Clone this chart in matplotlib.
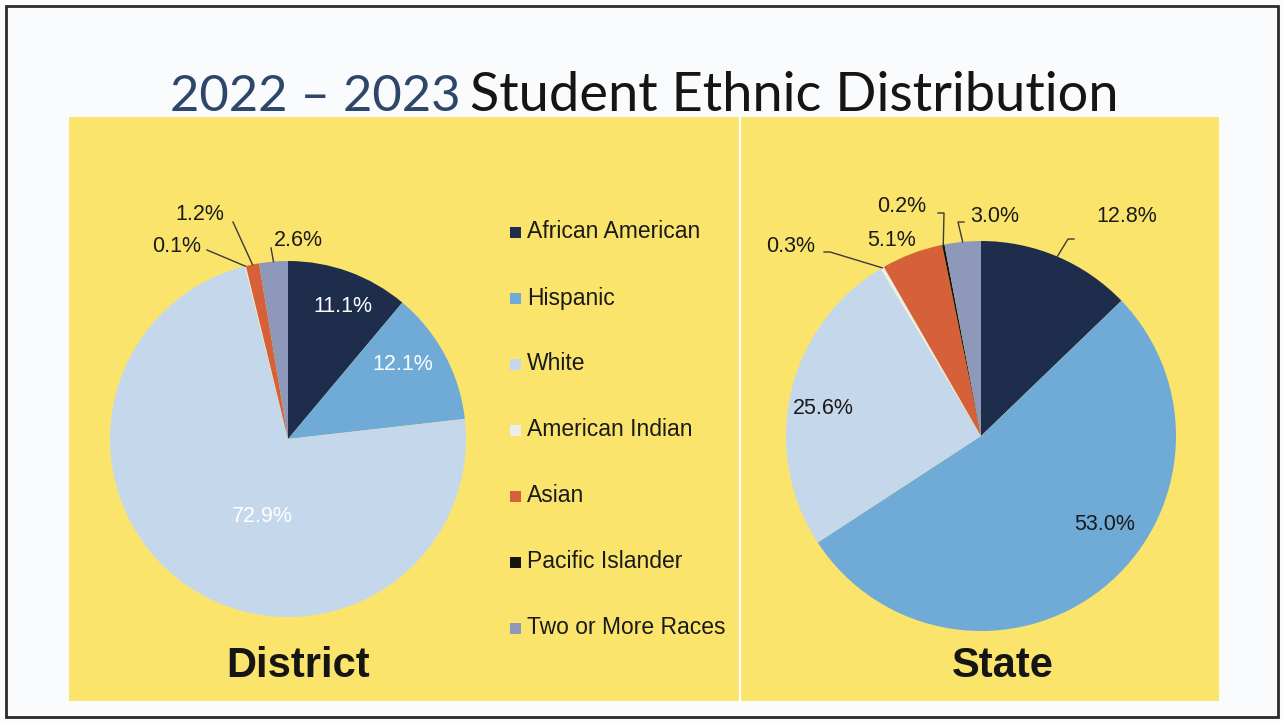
import matplotlib
matplotlib.use("Agg")
import numpy as np
import matplotlib.pyplot as plt
from matplotlib.patches import Rectangle

# ---- data -------------------------------------------------------------
categories = ["African American", "Hispanic", "White", "American Indian",
              "Asian", "Pacific Islander", "Two or More Races"]
district_pct = [11.1, 12.1, 72.9, 0.1, 1.2, 0.0, 2.6]
state_pct = [12.8, 53.0, 25.6, 0.3, 5.1, 0.2, 3.0]
panel_titles = ["District", "State"]
title_years = "2022 \u2013 2023"
title_rest = "Student Ethnic Distribution"

# ---- style ------------------------------------------------------------
colors = ["#1f2d4d", "#70abd8", "#c5d8eb", "#eceeee",
          "#d5603a", "#17160f", "#8d98bb"]
yellow = "#fbe46c"
page = "#f9fbfc"
W, H = 1284, 721

fig = plt.figure(figsize=(W / 100, H / 100), dpi=100, facecolor=page)
ax = fig.add_axes([0, 0, 1, 1])


def Y(y):
    """top-down pixel row -> axes y"""
    return H - y


# page frame and yellow panels
ax.add_patch(Rectangle((5.5, Y(717)), 1272, 711, fill=False,
                       ec="#2a2a2a", lw=2.0, zorder=1))
ax.add_patch(Rectangle((69, Y(701)), 1150, 584, fc=yellow, ec="none",
                       zorder=1))
ax.plot([740, 740], [Y(117), Y(701)], color="white", lw=1.6, zorder=2)

# title
ax.text(170, Y(111), title_years, fontsize=36.5, family="Lato",
        color="#2d4669", ha="left", va="baseline", zorder=3)
ax.text(470, Y(111), title_rest, fontsize=39, family="Lato",
        color="#151515", ha="left", va="baseline", zorder=3)

label_font = dict(family="Liberation Sans", fontsize=15.5)


def draw_pie(values, cx, cy, r):
    wedges, _ = ax.pie(values, colors=colors, startangle=90,
                       counterclock=False, center=(cx, Y(cy)), radius=r,
                       frame=True, wedgeprops=dict(linewidth=0))
    for w in wedges:
        w.set_zorder(4)
    return wedges


def edge_point(w, cx, cy, r):
    mid = np.deg2rad((w.theta1 + w.theta2) / 2)
    return cx + r * np.cos(mid), Y(cy) + r * np.sin(mid)


def fmt(v):
    return f"{v:.1f}%"


# ---- District pie -----------------------------------------------------
dcx, dcy, dr = 288, 439, 178
dw = draw_pie(district_pct, dcx, dcy, dr)

inside_d = {0: (343, 306), 1: (403, 365), 2: (262, 516)}
for i, (x, y) in inside_d.items():
    ax.text(x, Y(y), fmt(district_pct[i]), color="white", ha="center",
            va="center", zorder=6, **label_font)

# outside labels: text position, elbow point
outside_d = {3: ((177, 246), (207, 250)),
             4: ((200, 215), (233, 222)),
             6: ((298, 240), (271, 248))}
for i, ((tx, ty), (ex, ey)) in outside_d.items():
    ax.text(tx, Y(ty), fmt(district_pct[i]), color="#1a1a1a", ha="center",
            va="center", zorder=6, **label_font)
    px, py = edge_point(dw[i], dcx, dcy, dr)
    ax.plot([ex, px], [Y(ey), py], color="#3a3a3a", lw=1.0, zorder=5)

# ---- State pie --------------------------------------------------------
scx, scy, sr = 981, 436, 195
sw = draw_pie(state_pct, scx, scy, sr)

inside_s = {1: (1105, 524), 2: (823, 408)}
for i, (x, y) in inside_s.items():
    ax.text(x, Y(y), fmt(state_pct[i]), color="#1a1a1a", ha="center",
            va="center", zorder=6, **label_font)

ax.text(892, Y(241), fmt(state_pct[4]), color="#1a1a1a", ha="center",
        va="center", zorder=6, **label_font)

outside_s = {0: ((1127, 217), (1074, 239)),
             3: ((791, 247), (824, 252)),
             5: ((902, 207), (938, 213)),
             6: ((995, 217), (964, 222))}
for i, ((tx, ty), (ex, ey)) in outside_s.items():
    ax.text(tx, Y(ty), fmt(state_pct[i]), color="#1a1a1a", ha="center",
            va="center", zorder=6, **label_font)
    px, py = edge_point(sw[i], scx, scy, sr)
    hx = ex + (6 if ex > tx else -6)
    ax.plot([ex, hx, px], [Y(ey), Y(ey), py], color="#3a3a3a",
            lw=1.0, zorder=5)

# ---- legend -----------------------------------------------------------
for k, (name, c) in enumerate(zip(categories, colors)):
    yy = 232 + 66 * k
    ax.add_patch(Rectangle((510, Y(yy) - 5.5), 11, 11, fc=c, ec="none",
                           zorder=6))
    ax.text(527, Y(yy), name, color="#1a1a1a", ha="left", va="center",
            family="Liberation Sans", fontsize=16.5, zorder=6)

# ---- panel captions ---------------------------------------------------
for x, name in zip([298, 1003], panel_titles):
    ax.text(x, Y(677), name, color="#151515", ha="center", va="baseline",
            family="Liberation Sans", fontweight="bold", fontsize=30,
            zorder=6)

ax.set_xlim(0, W)
ax.set_ylim(0, H)
ax.set_aspect("auto")
ax.axis("off")
fig.savefig("out.png", dpi=100, facecolor=page)
